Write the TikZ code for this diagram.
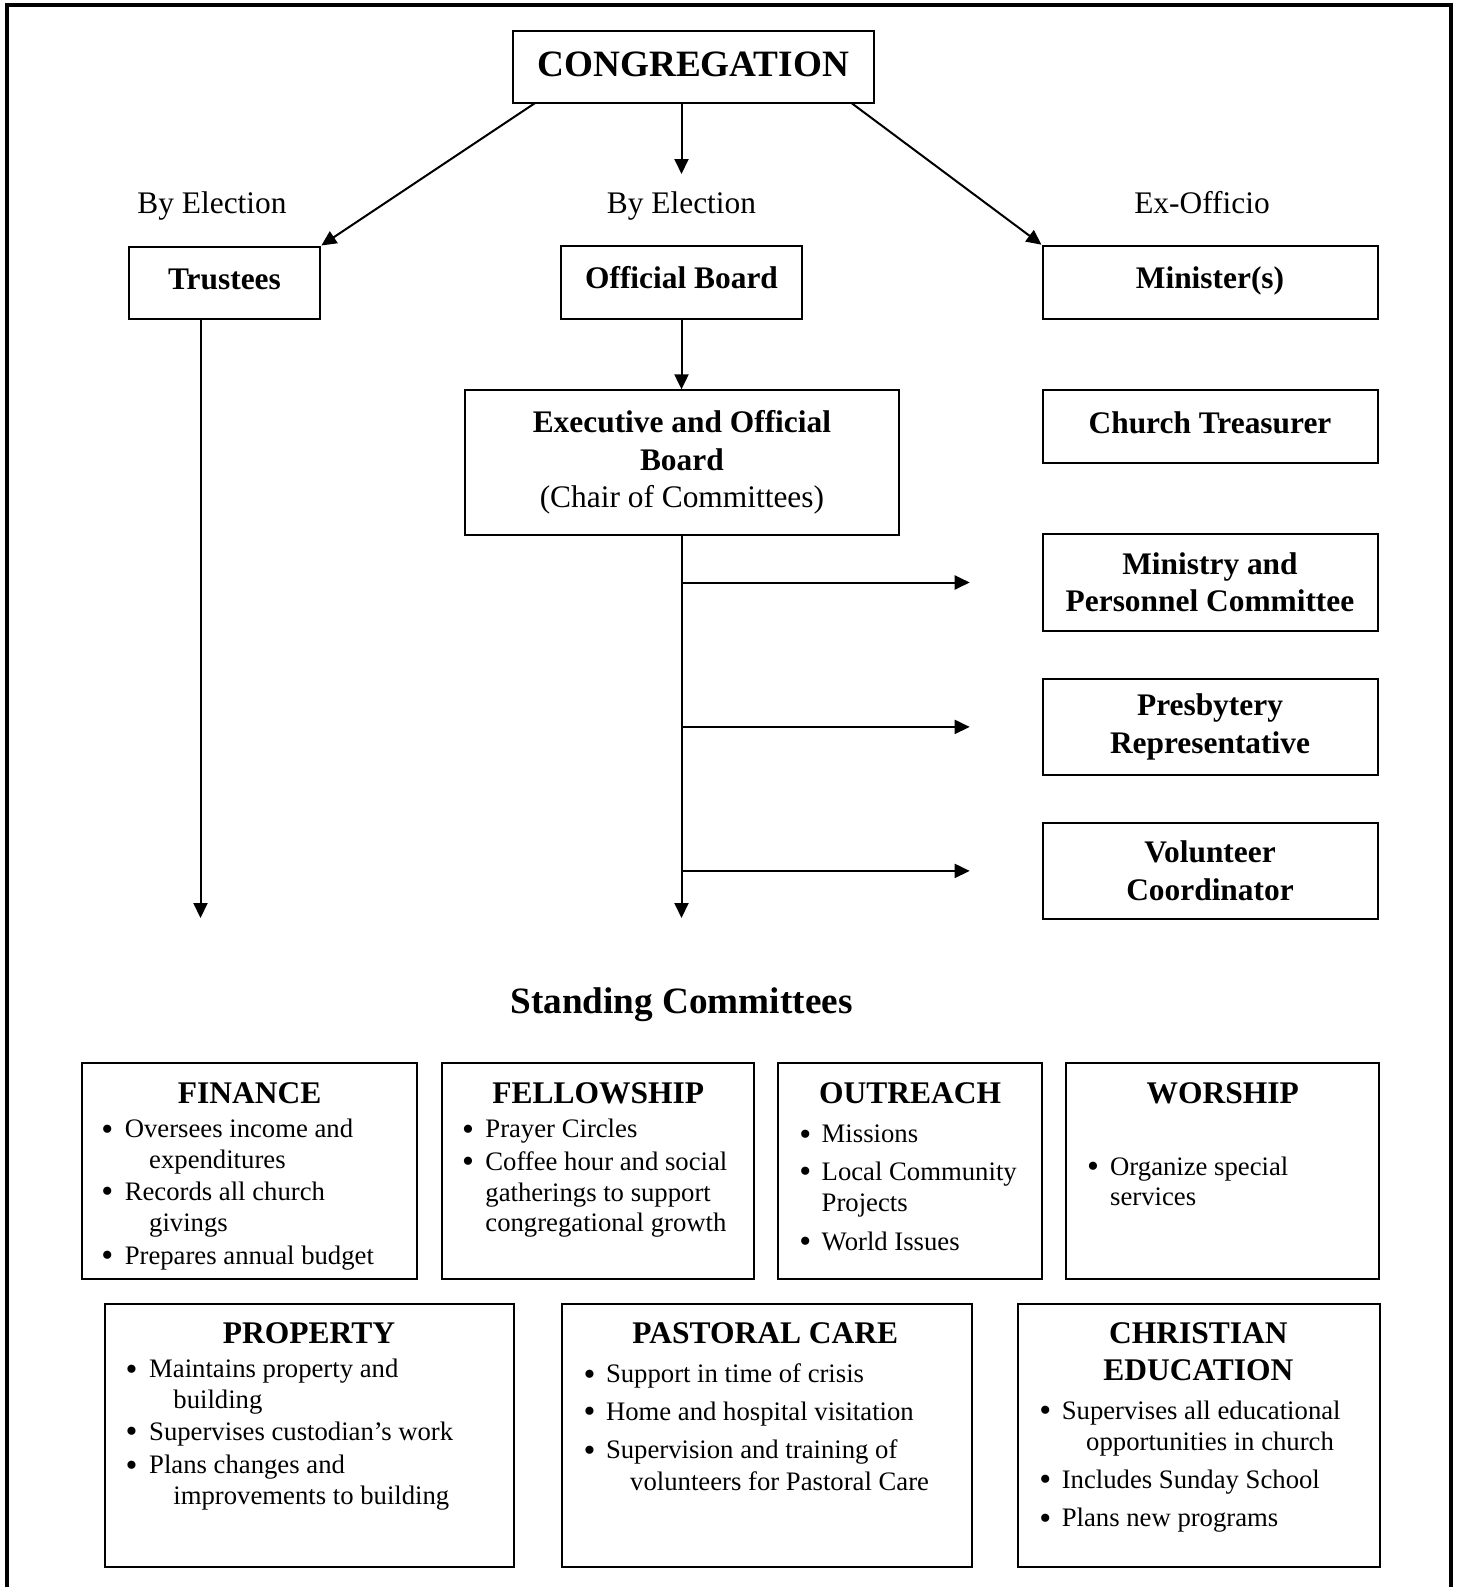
\documentclass[tikz,border=0pt]{standalone}
\usepackage{fontspec}
\setmainfont{Liberation Serif}
\usetikzlibrary{arrows.meta}
\newcommand\fTitle{\fontsize{37.2}{44}\selectfont\bfseries}
\newcommand\fNode{\fontsize{31.4}{37.5}\selectfont\bfseries}
\newcommand\fLab{\fontsize{31.4}{37.5}\selectfont}
\newcommand\fCom{\fontsize{31.5}{36.5}\selectfont\bfseries}
\newcommand\fBul{\fontsize{26.7}{31}\selectfont}
\newcommand\fDot{\fontsize{34}{31}\selectfont}
\tikzset{
  box/.style={draw, line width=2pt, inner sep=0pt, align=center},
  one/.style={text height=21pt, text depth=8pt},
  onebig/.style={text height=26pt, text depth=5.4pt},
  conn/.style={line width=2pt, -{Triangle[length=15pt,width=14pt]}},
  lab/.style={inner sep=0pt, anchor=base, font=\fLab},
  ctitle/.style={inner sep=0pt, anchor=base, font=\fCom},
  bt/.style={inner sep=0pt, anchor=base west, font=\fBul},
  bd/.style={inner sep=0pt, anchor=base, font=\fDot, yshift=-2.5pt},
}
\begin{document}
\begin{tikzpicture}[x=1pt,y=-1pt]
\useasboundingbox (0,0) rectangle (1456,1587);
% outer frame
\draw[line width=4pt] (6.5,1587) -- (6.5,5.5) -- (1450.5,5.5) -- (1450.5,1587);

% upper boxes
\node[box, onebig, minimum width=361.4pt, minimum height=72pt, font=\fTitle] (cong) at (693.3,66.7) {CONGREGATION};
\node[box, one, minimum width=191.7pt, minimum height=72pt, font=\fNode] (trust) at (224.5,282.5) {Trustees};
\node[box, one, minimum width=241pt, minimum height=73pt, font=\fNode] (obd) at (681.5,282.2) {Official Board};
\node[box, one, minimum width=335pt, minimum height=73pt, font=\fNode] (mini) at (1210,282.2) {Minister(s)};
\node[box, minimum width=434.3pt, minimum height=144.7pt, font=\fNode] (exec) at (681.9,462.7) {Executive and Official\\Board\\{\mdseries (Chair of Committees)}};
\node[box, one, minimum width=335pt, minimum height=72.7pt, font=\fNode] (treas) at (1210,426.7) {Church Treasurer};
\node[box, minimum width=335pt, minimum height=96.4pt, font=\fNode] (minpc) at (1210,582.5) {Ministry and\\Personnel Committee};
\node[box, minimum width=335pt, minimum height=96.4pt, font=\fNode] (presb) at (1210,726.9) {Presbytery\\Representative};
\node[box, minimum width=335pt, minimum height=96.4pt, font=\fNode] (vol) at (1210,870.9) {Volunteer\\Coordinator};

% labels
\node[lab] (lb1) at (212,213.5) {By Election};
\node[lab] (lb2) at (681.5,213.5) {By Election};
\node[lab] (lb3) at (1202,213.5) {Ex-Officio};
\node[inner sep=0pt, anchor=base, font=\fTitle] (stc) at (681.5,1013) {Standing Committees};

% free-end coordinates
\coordinate (cs1) at (535.6,102.7);
\coordinate (cs3) at (851,102.7);
\coordinate (midtip) at (681.5,174);
\coordinate (trtop) at (200.5,318.5);
\coordinate (trtip) at (200.5,918);
\coordinate (extip) at (681.5,918);
\coordinate (br1) at (681.5,582.5);
\coordinate (br2) at (681.5,726.9);
\coordinate (br3) at (681.5,870.9);
\coordinate (a1) at (969.7,582.5);
\coordinate (a2) at (969.7,726.9);
\coordinate (a3) at (969.7,870.9);

% connectors
\draw[conn] (cs1) -- (trust.north east);
\draw[conn] (cong.south -| obd.north) -- (midtip);
\draw[conn] (cs3) -- (mini.north west);
\draw[conn] (obd.south) -- (obd.south |- exec.north);
\draw[conn] (trtop) -- (trtip);
\draw[conn] (exec.south -| obd.south) -- (extip);
\draw[conn] (br1) -- (a1);
\draw[conn] (br2) -- (a2);
\draw[conn] (br3) -- (a3);

% committee boxes
\node[box, minimum width=335.9pt, minimum height=216pt] (fin) at (249.45,1171) {};
\node[box, minimum width=312pt, minimum height=216pt] (fel) at (597.7,1171) {};
\node[box, minimum width=264.4pt, minimum height=216pt] (out) at (910.2,1171) {};
\node[box, minimum width=313pt, minimum height=216pt] (wor) at (1222.2,1171) {};
\node[box, minimum width=409pt, minimum height=263.5pt] (prop) at (309.5,1435.25) {};
\node[box, minimum width=410pt, minimum height=263.5pt] (past) at (767,1435.25) {};
\node[box, minimum width=362pt, minimum height=263.5pt] (ce) at (1198.5,1435.25) {};

% FINANCE
\node[ctitle] (fint) at (249.7,1103.5) {FINANCE};
\node[bd] (fin1b) at (107.4,1137.5) {\textbullet};
\node[bt] (fin1) at (124.6,1137.5) {Oversees income and};
\node[bt] (fin1c) at (149,1168) {expenditures};
\node[bd] (fin2b) at (107.4,1200.3) {\textbullet};
\node[bt] (fin2) at (124.6,1200.3) {Records all church};
\node[bt] (fin2c) at (149,1231.7) {givings};
\node[bd] (fin3b) at (107.4,1264) {\textbullet};
\node[bt] (fin3) at (124.6,1264) {Prepares annual budget};

% FELLOWSHIP
\node[ctitle] (felt) at (598.2,1103.5) {FELLOWSHIP};
\node[bd] (fel1b) at (468,1137.5) {\textbullet};
\node[bt] (fel1) at (485.2,1137.5) {Prayer Circles};
\node[bd] (fel2b) at (468,1170) {\textbullet};
\node[bt] (fel2) at (485.2,1170) {Coffee hour and social};
\node[bt] (fel2c) at (485.2,1201.3) {gatherings to support};
\node[bt] (fel2d) at (485.2,1231.7) {congregational growth};

% OUTREACH
\node[ctitle] (outt) at (910,1103.5) {OUTREACH};
\node[bd] (out1b) at (805.3,1142.6) {\textbullet};
\node[bt] (out1) at (821.5,1142.6) {Missions};
\node[bd] (out2b) at (805.3,1180) {\textbullet};
\node[bt] (out2) at (821.5,1180) {Local Community};
\node[bt] (out2c) at (821.5,1211.4) {Projects};
\node[bd] (out3b) at (805.3,1250) {\textbullet};
\node[bt] (out3) at (821.5,1250) {World Issues};

% WORSHIP
\node[ctitle] (wort) at (1222.7,1103.5) {WORSHIP};
\node[bd] (wor1b) at (1093,1175) {\textbullet};
\node[bt] (wor1) at (1110,1175) {Organize special};
\node[bt] (wor1c) at (1110,1205.4) {services};

% PROPERTY
\node[ctitle] (propt) at (309,1343.6) {PROPERTY};
\node[bd] (prop1b) at (131.7,1377.6) {\textbullet};
\node[bt] (prop1) at (149,1377.6) {Maintains property and};
\node[bt] (prop1c) at (173.2,1408) {building};
\node[bd] (prop2b) at (131.7,1440.4) {\textbullet};
\node[bt] (prop2) at (149,1440.4) {Supervises custodian’s work};
\node[bd] (prop3b) at (131.7,1473.8) {\textbullet};
\node[bt] (prop3) at (149,1473.8) {Plans changes and};
\node[bt] (prop3c) at (173.2,1504.2) {improvements to building};

% PASTORAL CARE
\node[ctitle] (pastt) at (765.3,1343.6) {PASTORAL CARE};
\node[bd] (past1b) at (589.6,1382.6) {\textbullet};
\node[bt] (past1) at (605.8,1382.6) {Support in time of crisis};
\node[bd] (past2b) at (589.6,1420) {\textbullet};
\node[bt] (past2) at (605.8,1420) {Home and hospital visitation};
\node[bd] (past3b) at (589.6,1458.6) {\textbullet};
\node[bt] (past3) at (605.8,1458.6) {Supervision and training of};
\node[bt] (past3c) at (630,1490) {volunteers for Pastoral Care};

% CHRISTIAN EDUCATION
\node[ctitle] (cet1) at (1198.4,1343.6) {CHRISTIAN};
\node[ctitle] (cet2) at (1198.4,1380) {EDUCATION};
\node[bd] (ce1b) at (1045.4,1419) {\textbullet};
\node[bt] (ce1) at (1061.6,1419) {Supervises all educational};
\node[bt] (ce1c) at (1086,1450.5) {opportunities in church};
\node[bd] (ce2b) at (1045.4,1488) {\textbullet};
\node[bt] (ce2) at (1061.6,1488) {Includes Sunday School};
\node[bd] (ce3b) at (1045.4,1526.5) {\textbullet};
\node[bt] (ce3) at (1061.6,1526.5) {Plans new programs};
\end{tikzpicture}
\end{document}
